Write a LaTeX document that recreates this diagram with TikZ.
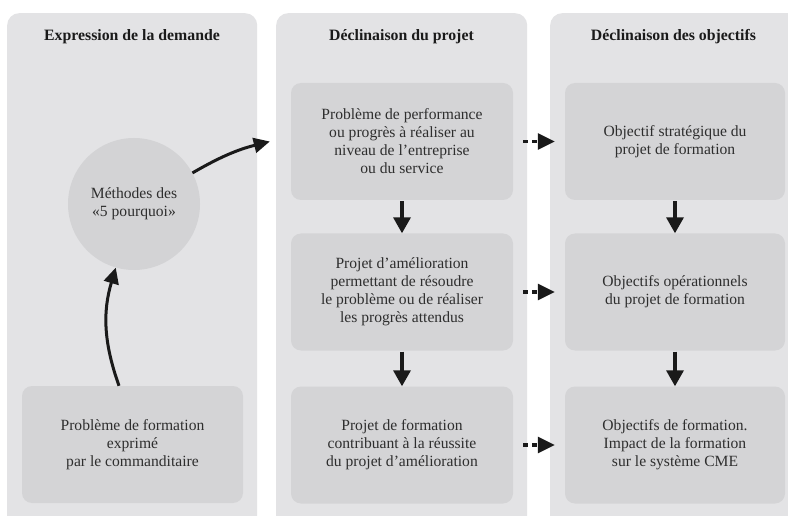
\documentclass[tikz,border=0pt]{standalone}
\usepackage{fontspec}
\setmainfont{Liberation Serif}
\usetikzlibrary{arrows.meta}
\definecolor{panelc}{HTML}{E3E3E5}
\definecolor{boxc}{HTML}{D4D4D6}
\definecolor{circc}{HTML}{D3D3D5}
\definecolor{txtc}{HTML}{2E2E2E}
\definecolor{titc}{HTML}{1A1A1A}
\definecolor{arrc}{HTML}{1A1A1A}
\begin{document}
\begin{tikzpicture}[x=1pt,y=1pt,
  panel/.style={fill=panelc, draw=none, rounded corners=12pt, inner sep=0pt, anchor=north west},
  box/.style={fill=boxc, draw=none, rounded corners=10pt, minimum height=117pt, inner sep=0pt,
    align=center, text=txtc, font=\fontsize{15.6}{18}\selectfont},
  ttl/.style={text=titc, font=\fontsize{15.8}{18}\selectfont\bfseries, inner sep=0pt},
  curvearrow/.style={draw=arrc, line width=3pt, -{Triangle[length=16pt,width=15pt]}},
  varrow/.style={draw=arrc, line width=3.4pt, -{Triangle[length=16pt,width=17pt]}, shorten <=1pt, shorten >=0pt},
  darrow/.style={draw=arrc, line width=3.2pt, dash pattern=on 5pt off 4pt, -{Triangle[length=17pt,width=16pt]}, shorten <=10pt, shorten >=10pt}
]
\clip (0,0) rectangle (788,515);
\fill[white] (0,0) rectangle (788,515);

% panels
\node[panel, minimum width=250pt, minimum height=540pt] (p1) at (7,502) {};
\node[panel, minimum width=251pt, minimum height=540pt] (p2) at (276,502) {};
\node[panel, minimum width=260pt, minimum height=540pt] (p3) at (550,502) {};

% titles
\node[ttl] (t1) at (132,478) {Expression de la demande};
\node[ttl] (t2) at (401.5,478) {Déclinaison du projet};
\node[ttl] (t3) at (673.5,478) {Déclinaison des objectifs};

% panel 1
\node[circle, fill=circc, minimum size=132pt, inner sep=0pt, align=center, text=txtc,
      font=\fontsize{15.6}{18}\selectfont] (circ) at (134,311) {Méthodes des\\«5 pourquoi»};
\node[box, minimum width=221pt] (q1) at (132.5,70.5) {Problème de formation\\exprimé\\par le commanditaire};

% panel 2
\node[box, minimum width=222pt] (b1) at (402,373.5) {Problème de performance\\ou progrès à réaliser au\\niveau de l’entreprise\\ou du service};
\node[box, minimum width=222pt] (b2) at (402,223) {Projet d’amélioration\\permettant de résoudre\\le problème ou de réaliser\\les progrès attendus};
\node[box, minimum width=222pt] (b3) at (402,70) {Projet de formation\\contribuant à la réussite\\du projet d’amélioration};

% panel 3
\node[box, minimum width=220pt] (o1) at (675,373.5) {Objectif stratégique du\\projet de formation};
\node[box, minimum width=220pt] (o2) at (675,223) {Objectifs opérationnels\\du projet de formation};
\node[box, minimum width=220pt] (o3) at (675,70) {Objectifs de formation.\\Impact de la formation\\sur le système CME};

% connectors
\coordinate (c1) at ([xshift=-21pt]b1.west);
\draw[curvearrow] ([xshift=-13.5pt]q1.north) to[bend left=18] (circ.-106);
\draw[curvearrow] (circ.28) to[bend left=8] (c1);

\draw[varrow] (b1.south) -- (b2.north);
\draw[varrow] (b2.south) -- (b3.north);
\draw[varrow] (o1.south) -- (o2.north);
\draw[varrow] (o2.south) -- (o3.north);

\draw[darrow] (b1.east) -- (o1.west);
\draw[darrow] (b2.east) -- (o2.west);
\draw[darrow] (b3.east) -- (o3.west);
\end{tikzpicture}
\end{document}
